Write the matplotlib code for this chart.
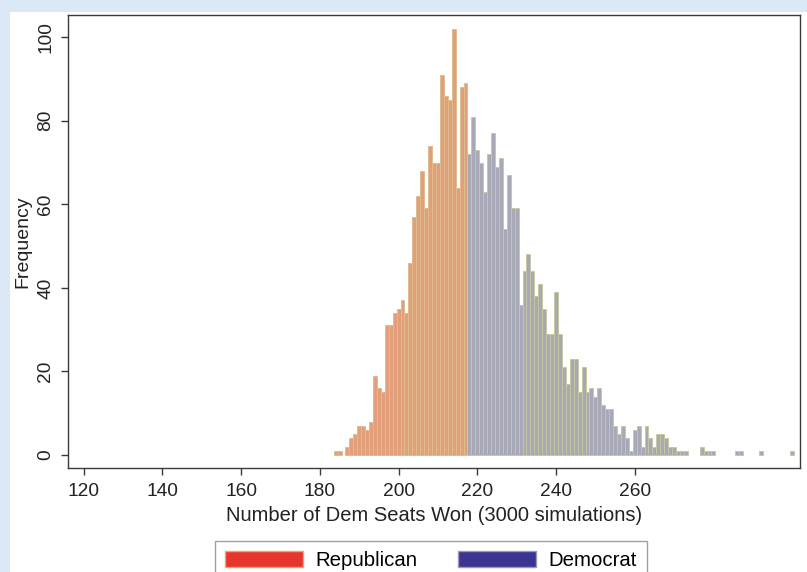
import numpy as np
import matplotlib.pyplot as plt
from matplotlib.patches import Rectangle, Patch

plt.rcParams['font.family'] = ['Liberation Sans', 'DejaVu Sans']

# Seats won by Democrats and how often each came up (3000 simulations)
seats = list(range(184, 281)) + [286, 287, 292, 300]
counts = [1, 1, 0, 2, 4, 5, 7, 7, 6, 8,            # 184-193
          19, 16, 15, 31, 31, 34, 35, 37, 34, 46,  # 194-203
          57, 62, 68, 59, 74, 70, 70, 91, 86, 85,  # 204-213
          102, 64, 88, 89, 72, 81, 73, 70, 63, 72, # 214-223
          77, 69, 71, 54, 67, 59, 59, 36, 44, 48,  # 224-233
          44, 38, 41, 35, 29, 29, 39, 29, 21, 17,  # 234-243
          23, 23, 15, 21, 15, 16, 14, 16, 12, 11,  # 244-253
          11, 7, 5, 7, 4, 1, 6, 7, 2, 7,           # 254-263
          4, 2, 5, 5, 4, 2, 2, 1, 1, 1,            # 264-273
          0, 0, 0, 2, 1, 1, 1,                     # 274-280
          1, 1, 1, 1]                              # 286, 287, 292, 300
majority = 218

x_ticks = [120, 140, 160, 180, 200, 220, 240, 260]
y_ticks = [0, 20, 40, 60, 80, 100]

seats = np.array(seats)
counts = np.array(counts)
keep = counts > 0
seats, counts = seats[keep], counts[keep]
rep = seats < majority

fig = plt.figure(figsize=(8.07, 5.72), dpi=100, facecolor='#dce8f6')
# white panel (the reference is cropped out of a larger page)
panel = Rectangle((10 / 807, 0), 1, 1 - 12 / 572, transform=fig.transFigure,
                  facecolor='white', edgecolor='none', zorder=-10)
fig.add_artist(panel)

ax = fig.add_axes([68 / 807, 1 - 468 / 572, (800 - 68) / 807, (468 - 15) / 572])
ax.set_zorder(1)
ax.set_facecolor('white')

ax.bar(seats[rep], counts[rep], width=1.0, color='#e39f7a',
       edgecolor='#dcbd8e', linewidth=0.65)
ax.bar(seats[~rep], counts[~rep], width=1.0, color='#a8a9b7',
       edgecolor='#c9c79e', linewidth=0.65)

ax.set_xlim(116.0, 302.0)
ax.set_ylim(-3.1, 105.3)
ax.set_xticks(x_ticks)
ax.set_yticks(y_ticks)

for s in ax.spines.values():
    s.set_color('#3a3a3a')
    s.set_linewidth(1.0)

ax.tick_params(axis='both', colors='#3a3a3a', labelcolor='#222222',
               labelsize=13.8, length=5, width=1.0, direction='out')
ax.tick_params(axis='x', pad=6)
ax.tick_params(axis='y', pad=5)
for lab in ax.get_yticklabels():
    lab.set_rotation(90)
    lab.set_va('center')

ax.set_xlabel('Number of Dem Seats Won (3000 simulations)', fontsize=14.5,
              color='#222222', labelpad=4)
ax.set_ylabel('Frequency', fontsize=14, color='#222222', labelpad=4)

handles = [Patch(facecolor='#e8352b', edgecolor='#e9a678', linewidth=1.0, label='Republican'),
           Patch(facecolor='#3b3492', edgecolor='#9a9ab0', linewidth=1.0, label='Democrat')]
leg = fig.legend(handles=handles, loc='upper left', ncol=2,
                 bbox_to_anchor=(215 / 807, 1 - 541 / 572),
                 fontsize=14.7, frameon=True, fancybox=False,
                 handlelength=3.8, handleheight=0.85, handletextpad=0.62,
                 columnspacing=2.0, borderpad=0.5, borderaxespad=0)
leg.get_frame().set_edgecolor('#8a8a8a')
leg.get_frame().set_linewidth(1.0)

fig.savefig('out.png', dpi=100, facecolor=fig.get_facecolor())
